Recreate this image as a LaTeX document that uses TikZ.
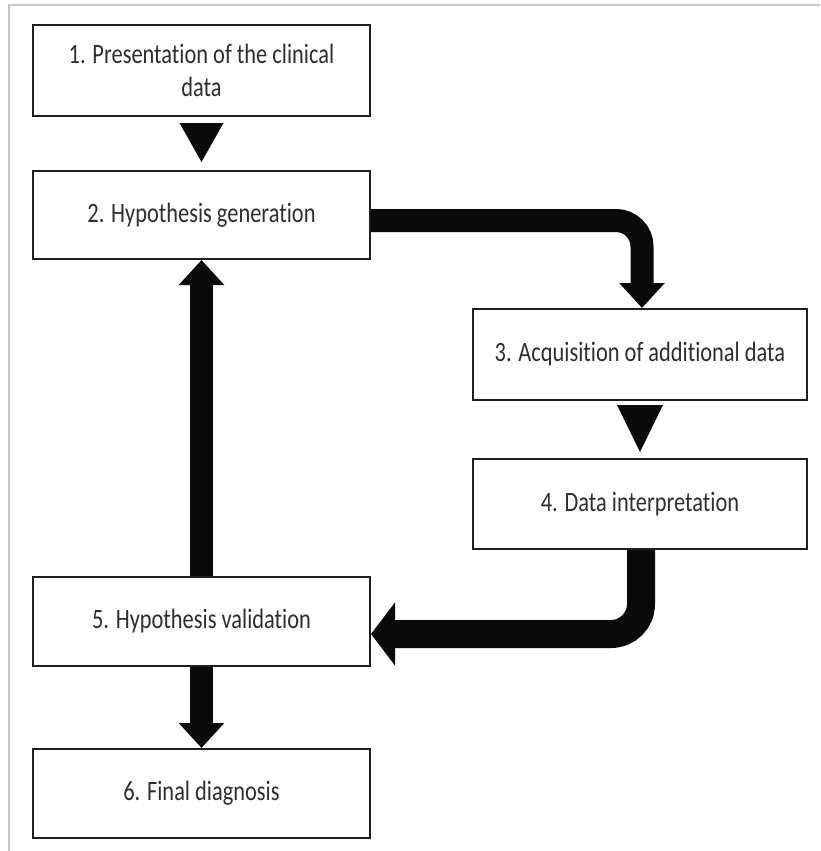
\documentclass[tikz,border=0pt]{standalone}
\usepackage{fontspec}
\setmainfont{Carlito}[FakeStretch=0.8, Ligatures=NoCommon]
\usetikzlibrary{arrows.meta,calc}
\definecolor{boxline}{HTML}{1E1E1E}
\definecolor{txt}{HTML}{2E2E2E}
\definecolor{frame}{HTML}{C8C8C8}
\definecolor{arr}{HTML}{0A0A0A}
\tikzset{
  stepbox/.style={draw=boxline, line width=2pt, fill=white, minimum width=337pt,
    minimum height=90pt, inner sep=0pt, align=center, text=txt,
    font=\fontsize{28}{33}\selectfont},
  bigarrow/.style={draw=arr, line width=23pt, rounded corners=26pt,
    -{Triangle[length=25pt,width=44pt]}},
  widearrow/.style={draw=arr, line width=28pt, rounded corners=30pt,
    -{Triangle[length=24pt,width=62pt]}},
  tri/.style={fill=arr}
}
\begin{document}
\begin{tikzpicture}[x=1pt,y=-1pt]
\useasboundingbox (0,0) rectangle (820,851);
\fill[white] (0,0) rectangle (820,851);
\draw[frame, line width=1.5pt] (9,851) -- (9,5) -- (820,5);

\node[stepbox, minimum height=91pt] (b1) at (201.5,70.5) {1. Presentation of the clinical\\data};
\node[stepbox, minimum height=88pt] (b2) at (201.5,215) {2. Hypothesis generation};
\node[stepbox, minimum width=334pt, minimum height=91pt] (b3) at (640,354.5) {3. Acquisition of additional data};
\node[stepbox, minimum width=334pt, minimum height=90pt] (b4) at (640,504) {4. Data interpretation};
\node[stepbox, minimum height=89pt] (b5) at (201.5,621.5) {5. Hypothesis validation};
\node[stepbox, minimum height=89pt] (b6) at (201.5,793.5) {6. Final diagnosis};

% solid triangles
\fill[tri] ($(b1.south)+(-22,6)$) -- ($(b1.south)+(22,6)$) -- ($(b2.north)+(0,-8)$) -- cycle;
\fill[tri] ($(b3.south)+(-23,4)$) -- ($(b3.south)+(23,4)$) -- ($(b4.north)+(0,-6)$) -- cycle;

% thick arrows
\draw[bigarrow] ([yshift=-5.5pt]b2.east) -| ([xshift=2pt]b3.north);
\draw[widearrow] ([xshift=1pt]b4.south) |- ([yshift=-12.5pt]b5.east);
\draw[bigarrow] (b5.north) -- (b2.south);
\draw[bigarrow] (b5.south) -- (b6.north);
\end{tikzpicture}
\end{document}
